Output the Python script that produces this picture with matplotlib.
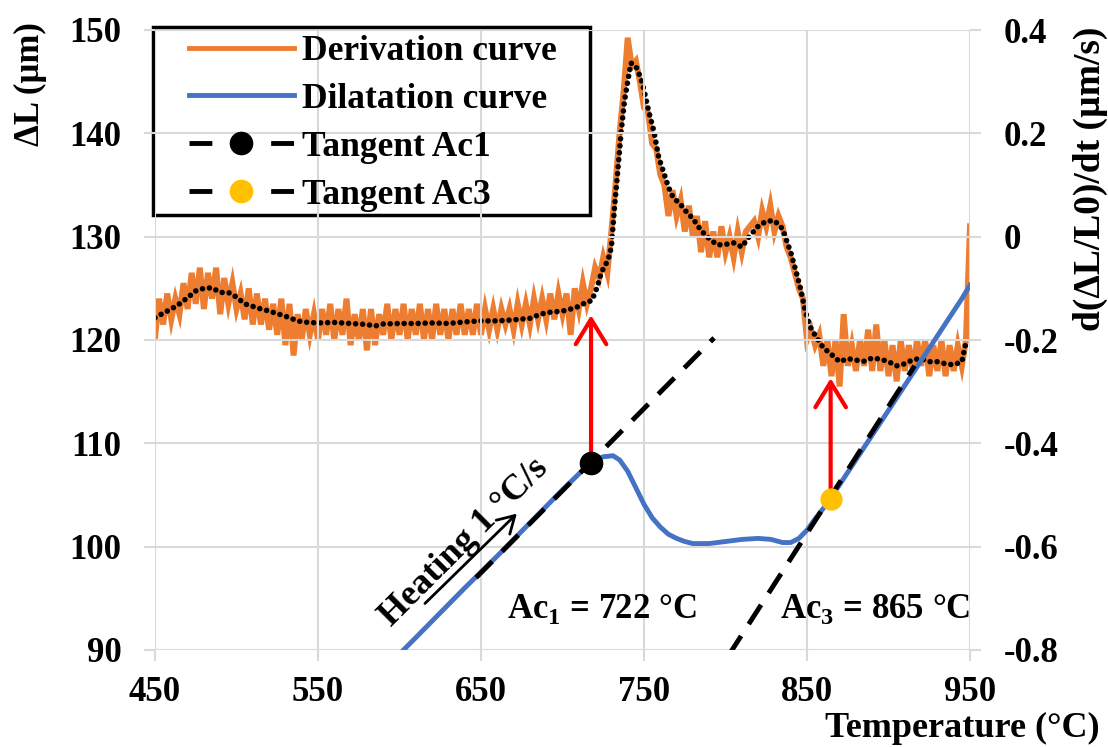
import numpy as np
import matplotlib
matplotlib.use("Agg")
import matplotlib.pyplot as plt
from matplotlib.lines import Line2D
from matplotlib.patches import Rectangle

plt.rcParams['font.family'] = ['Liberation Serif', 'DejaVu Serif']
plt.rcParams['font.weight'] = 'bold'
plt.rcParams['mathtext.fontset'] = 'custom'
plt.rcParams['mathtext.rm'] = 'Liberation Serif:bold'
plt.rcParams['mathtext.bf'] = 'Liberation Serif:bold'

# derivation curve (right axis, um/s), sampled every 2.5 C from 450
orange_v = [
    -0.195, -0.12, -0.17, -0.11, -0.16, -0.12, -0.15, -0.09, -0.14, -0.07,
    -0.13, -0.06, -0.14, -0.07, -0.12, -0.06, -0.15, -0.08, -0.13, -0.09,
    -0.14, -0.11, -0.16, -0.10, -0.17, -0.11, -0.17, -0.12, -0.18, -0.13,
    -0.19, -0.12, -0.21, -0.13, -0.23, -0.15, -0.20, -0.14, -0.19, -0.15,
    -0.20, -0.14, -0.19, -0.13, -0.20, -0.14, -0.19, -0.12, -0.21, -0.15,
    -0.20, -0.14, -0.22, -0.14, -0.21, -0.15, -0.19, -0.13, -0.20, -0.14,
    -0.19, -0.13, -0.20, -0.14, -0.19, -0.13, -0.20, -0.14, -0.20, -0.13,
    -0.19, -0.14, -0.20, -0.14, -0.19, -0.13, -0.19, -0.14, -0.19, -0.13,
    -0.19, -0.14, -0.18, -0.14, -0.18, -0.14, -0.17, -0.14, -0.18, -0.13,
    -0.17, -0.13, -0.17, -0.12, -0.16, -0.12, -0.16, -0.11, -0.16, -0.11,
    -0.15, -0.11, -0.19, -0.10, -0.14, -0.09, -0.13, -0.10, -0.06, -0.08,
    -0.04, -0.07, 0.01, 0.10, 0.20, 0.28, 0.385, 0.33, 0.34, 0.30,
    0.25, 0.24, 0.18, 0.17, 0.12, 0.10, 0.04, 0.09, 0.04, 0.07,
    0.01, 0.06, 0.00, 0.04, -0.03, 0.03, -0.04, 0.01, -0.04, 0.02,
    -0.03, 0.00, -0.04, 0.01, -0.03, 0.01, 0.02, 0.03, 0.00, 0.05,
    0.02, 0.06, 0.01, 0.04, 0.02, -0.02, -0.04, -0.07, -0.10, -0.12,
    -0.20, -0.18, -0.21, -0.19, -0.25, -0.20, -0.27, -0.20, -0.29, -0.15,
    -0.25, -0.21, -0.26, -0.20, -0.25, -0.18, -0.26, -0.17, -0.26, -0.20,
    -0.27, -0.21, -0.28, -0.20, -0.26, -0.21, -0.26, -0.20, -0.25, -0.20,
    -0.27, -0.21, -0.26, -0.20, -0.27, -0.21, -0.26, -0.21, -0.25, -0.20,
    0.02,
]
orange_T = 450 + 2.5 * np.arange(len(orange_v))

# smoothed derivative (dotted)
smooth_T = [450, 455, 460, 465, 470, 475, 480, 485, 490, 495,
            500, 505, 510, 515, 520, 525, 530, 535, 540, 545,
            550, 560, 570, 580, 585, 590, 600, 610, 620, 630,
            640, 650, 660, 670, 680, 685, 690, 700, 705, 710,
            715, 718, 721, 724, 728, 730, 732, 734, 736, 738,
            740, 742, 745, 748, 750, 753, 756, 759, 762, 765,
            768, 772, 776, 780, 785, 790, 795, 800, 805, 810,
            815, 820, 825, 830, 835, 840, 843, 846, 849, 852,
            855, 860, 865, 870, 875, 880, 885, 890, 895, 900,
            905, 910, 915, 920, 925, 930, 935, 940, 945, 948]
smooth_v = [-0.157, -0.148, -0.140, -0.130, -0.118, -0.105, -0.100, -0.099, -0.108, -0.108,
            -0.117, -0.130, -0.135, -0.140, -0.144, -0.149, -0.154, -0.160, -0.165, -0.166,
            -0.167, -0.166, -0.168, -0.170, -0.173, -0.169, -0.168, -0.168, -0.167, -0.168,
            -0.165, -0.163, -0.163, -0.161, -0.158, -0.152, -0.147, -0.144, -0.140, -0.135,
            -0.126, -0.124, -0.100, -0.068, -0.045, -0.020, 0.060, 0.130, 0.203, 0.262,
            0.300, 0.336, 0.330, 0.307, 0.284, 0.241, 0.205, 0.154, 0.125, 0.096,
            0.075, 0.064, 0.048, 0.035, 0.012, -0.004, -0.016, -0.015, -0.012, -0.020,
            0.002, 0.020, 0.030, 0.031, 0.015, -0.030, -0.064, -0.100, -0.145, -0.175,
            -0.191, -0.215, -0.228, -0.242, -0.236, -0.239, -0.241, -0.235, -0.237, -0.242,
            -0.250, -0.246, -0.238, -0.236, -0.242, -0.242, -0.246, -0.248, -0.242, -0.198]

# dilatation curve (left axis, um)
blue_T = [598, 610, 620, 640, 660, 680, 700, 715, 720, 725, 731, 735, 740, 745, 750,
          755, 760, 765, 770, 775, 780, 790, 800, 810, 820, 828, 835, 840, 845, 850,
          855, 860, 865, 875, 885, 895, 905, 915, 925, 935, 945, 950]
blue_L = [89.3, 91.2, 92.8, 96.0, 99.1, 102.3, 105.5, 107.8, 108.4, 108.7, 108.8, 108.4, 107.3, 105.7, 104.1,
          102.8, 101.9, 101.2, 100.8, 100.5, 100.3, 100.3, 100.5, 100.7, 100.8, 100.7, 100.4, 100.4, 100.8, 101.6,
          102.7, 103.7, 104.8, 107.2, 109.6, 112.0, 114.4, 116.8, 119.2, 121.6, 124.0, 125.3]

# tangents
tan1_T = [647, 793]
tan1_L = [97.0, 120.2]
tan3_T = [802, 916]
tan3_L = [89.5, 117.5]

# transformation points and arrow tips
ac1 = (717.5, 108.1)
ac1_tip = 122.4
ac3 = (864.5, 104.6)
ac3_tip = 116.3

left_ticks = [90, 100, 110, 120, 130, 140, 150]
right_ticks = [-0.8, -0.6, -0.4, -0.2, 0, 0.2, 0.4]
right_labels = ['-0.8', '-0.6', '-0.4', '-0.2', '0', '0.2', '0.4']
x_ticks = [450, 550, 650, 750, 850, 950]

orange = '#ED7D31'
blue = '#4472C4'
yellow = '#FFC000'
grid_c = '#D9D9D9'
fs = 25

fig = plt.figure(figsize=(11.08, 7.47), dpi=100)
ax = fig.add_axes([155 / 1108, 1 - 650 / 747, (970 - 155) / 1108, 620 / 747])
ax2 = ax.twinx()
ax.set_zorder(ax2.get_zorder() + 1)
ax.patch.set_visible(False)

ax2.plot(orange_T, orange_v, color=orange, lw=4.3, solid_joinstyle='miter', zorder=2)
ax2.plot(smooth_T, smooth_v, color='black', lw=4, linestyle=(0, (0.01, 1.25)),
         dash_capstyle='round', zorder=3)

ax.plot(blue_T, blue_L, color=blue, lw=3.5, zorder=3)
ax.plot(tan1_T, tan1_L, color='black', lw=3.5, linestyle=(0, (4.7, 2.9)), zorder=4)
ax.plot(tan3_T, tan3_L, color='black', lw=3.5, linestyle=(0, (4.7, 2.9)), zorder=4)

red_style = dict(arrowstyle='->, head_length=0.9, head_width=0.55', color='red', lw=3,
                 shrinkA=0, shrinkB=0, mutation_scale=20)
ax.annotate('', xy=(ac1[0], ac1_tip), xytext=ac1, arrowprops=red_style, zorder=5)
ax.annotate('', xy=(ac3[0], ac3_tip), xytext=ac3, arrowprops=red_style, zorder=5)
ax.plot([ac1[0]], [ac1[1]], 'o', color='black', ms=16, zorder=6)
ax.plot([ac3[0]], [ac3[1]], 'o', color=yellow, ms=15, zorder=6)

ax.annotate('', xy=(672, 103.2), xytext=(615.6, 94.5),
            arrowprops=dict(arrowstyle='->, head_length=0.6, head_width=0.35', color='black',
                            lw=2, shrinkA=0, shrinkB=0, mutation_scale=20))
ax.text(639.5, 100.4, 'Heating 1 °C/s', rotation=45, rotation_mode='anchor',
        ha='center', va='center', fontsize=26, fontweight='bold')
ax.text(666, 93.1, r'Ac$_{1}$ = 722 °C', ha='left', va='baseline', fontsize=fs, fontweight='bold')
ax.text(833.4, 93.1, r'Ac$_{3}$ = 865 °C', ha='left', va='baseline', fontsize=fs, fontweight='bold')

ax.set_xlim(450, 950)
ax.set_ylim(90, 150)
ax2.set_ylim(-0.8, 0.4)
ax.set_xticks(x_ticks)
ax.set_yticks(left_ticks)
ax2.set_yticks(right_ticks)
ax2.set_yticklabels(right_labels)
ax.grid(True, color=grid_c, lw=1.5)
ax.set_axisbelow(True)
for a in (ax, ax2):
    for s in a.spines.values():
        s.set_visible(False)
ax.tick_params(axis='y', length=8, width=1.5, color=grid_c, pad=16, labelsize=fs)
ax.tick_params(axis='x', length=8, width=1.5, color=grid_c, pad=11, labelsize=fs)
ax2.tick_params(axis='y', length=8, width=1.5, color=grid_c, pad=16, labelsize=fs)

fig.text(1100 / 1108, 1 - 737 / 747, 'Temperature (°C)', ha='right', va='baseline',
         fontsize=26, fontweight='bold')
fig.text(30 / 1108, 1 - 84 / 747, 'ΔL (µm)', rotation=90, ha='center', va='center',
         fontsize=fs, fontweight='bold')
fig.text(1090 / 1108, 1 - 179 / 747, 'd(ΔL/L0)/dt (µm/s)', rotation=90, ha='center',
         va='center', fontsize=27, fontweight='bold')

# legend
handles = [
    Line2D([], [], color=orange, lw=3.5),
    Line2D([], [], color=blue, lw=3.5),
    Line2D([], [], color='black', lw=3.5, linestyle=(0, (4.7, 12.1)), marker='o', ms=16,
           markerfacecolor='black', markeredgecolor='black'),
    Line2D([], [], color='black', lw=3.5, linestyle=(0, (4.7, 12.1)), marker='o', ms=16,
           markerfacecolor=yellow, markeredgecolor=yellow),
]
labels = ['Derivation curve', 'Dilatation curve', 'Tangent Ac1', 'Tangent Ac3']
leg = fig.legend(handles, labels, loc='upper left', bbox_to_anchor=(189 / 1108, 1 - 35 / 747),
                 frameon=False, fontsize=25.5, borderpad=0, borderaxespad=0, handlelength=2.96,
                 handletextpad=0.22, labelspacing=0.42, numpoints=1)
fig.patches.append(Rectangle((153 / 1108, 1 - 215 / 747), (590 - 153) / 1108, (215 - 27) / 747,
                             transform=fig.transFigure, fill=True, facecolor='white',
                             edgecolor='black', lw=2.5, zorder=-1))
fig.savefig('out.png', dpi=100)
